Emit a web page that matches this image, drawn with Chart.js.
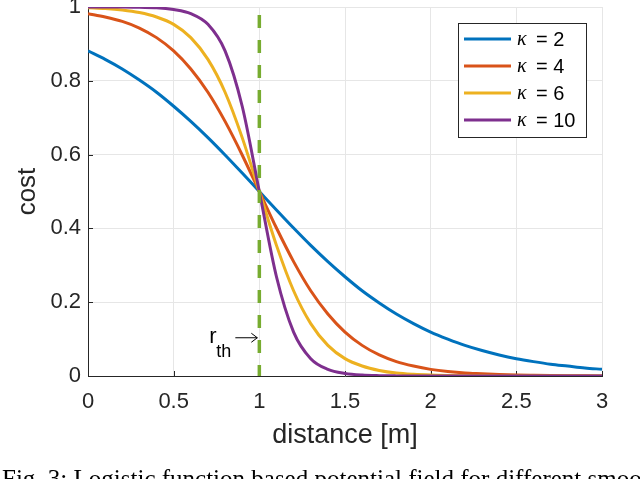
<!DOCTYPE html>
<html>
<head>
<meta charset="utf-8">
<script src="https://cdn.jsdelivr.net/npm/chart.js@4.4.0/dist/chart.umd.min.js"></script>
<style>
html, body { margin: 0; padding: 0; background: #fff; }
#wrap { width: 640px; height: 479px; position: relative; }
</style>
</head>
<body>
<div id="wrap"><canvas id="myChart"></canvas></div>
<script>
// distance samples [m] and cost
const distance = [0, 0.1, 0.2, 0.3, 0.4, 0.5, 0.6, 0.7, 0.8, 0.9, 1.0,
                  1.1, 1.2, 1.3, 1.4, 1.5, 1.6, 1.7, 1.8, 1.9, 2.0,
                  2.1, 2.2, 2.3, 2.4, 2.5, 2.6, 2.7, 2.8, 2.9, 3.0];
const costK2 = [0.881, 0.858, 0.832, 0.802, 0.769, 0.731, 0.690, 0.646, 0.599, 0.550, 0.500,
                0.450, 0.401, 0.354, 0.310, 0.269, 0.231, 0.198, 0.168, 0.142, 0.119,
                0.100, 0.083, 0.069, 0.057, 0.047, 0.039, 0.032, 0.027, 0.022, 0.018];
const costK4 = [0.982, 0.973, 0.961, 0.943, 0.917, 0.881, 0.832, 0.769, 0.690, 0.599, 0.500,
                0.401, 0.310, 0.231, 0.168, 0.119, 0.083, 0.057, 0.039, 0.027, 0.018,
                0.012, 0.008, 0.006, 0.004, 0.0025, 0.0017, 0.0011, 0.0007, 0.0005, 0.0003];
const costK6 = [0.998, 0.996, 0.992, 0.985, 0.973, 0.953, 0.917, 0.858, 0.769, 0.646, 0.500,
                0.354, 0.231, 0.142, 0.083, 0.047, 0.027, 0.015, 0.008, 0.0045, 0.0025,
                0.0014, 0.0007, 0.0004, 0.0002, 0.0001, 0.0001, 0, 0, 0, 0];
const costK10 = [1.000, 1.000, 1.000, 0.999, 0.998, 0.993, 0.982, 0.953, 0.881, 0.731, 0.500,
                 0.269, 0.119, 0.047, 0.018, 0.007, 0.0025, 0.0009, 0.0003, 0.0001, 0,
                 0, 0, 0, 0, 0, 0, 0, 0, 0, 0];
const kappas = ['2', '4', '6', '10'];
const threshold = [[1, 0], [1, 1]];
const xTicks = [0, 0.5, 1, 1.5, 2, 2.5, 3];
const yTicks = [0, 0.2, 0.4, 0.6, 0.8, 1];

const colors = ['#0072BD', '#D95319', '#EDB120', '#7E2F8E'];
const SANS = "'Liberation Sans', Arial, Helvetica, sans-serif";

function toPoints(values) {
    return values.map((v, i) => ({x: distance[i], y: v}));
}
function fmt(v) {
    return String(+Number(v).toFixed(1));
}

const series = [costK2, costK4, costK6, costK10];
const datasets = series.map((s, i) => ({
    label: 'κ = ' + kappas[i],
    data: toPoints(s),
    borderColor: colors[i],
    borderWidth: 3,
    pointRadius: 0,
    cubicInterpolationMode: 'monotone',
    order: 4 - i
}));
datasets.push({
    label: 'r_th',
    data: threshold.map(p => ({x: p[0], y: p[1]})),
    borderColor: '#77AC30',
    borderWidth: 3.5,
    borderDash: [13, 12],
    borderDashOffset: 2,
    pointRadius: 0,
    order: 0
});

const extras = {
    id: 'extras',
    beforeDatasetsDraw(chart) {
        const ctx = chart.ctx, xs = chart.scales.x, ys = chart.scales.y, a = chart.chartArea;
        ctx.save();
        ctx.strokeStyle = '#262626';
        ctx.lineWidth = 1;
        ctx.beginPath();
        xTicks.forEach(v => {
            const px = Math.round(xs.getPixelForValue(v)) + 0.5;
            ctx.moveTo(px, a.bottom);
            ctx.lineTo(px, a.bottom - 5);
        });
        yTicks.forEach(v => {
            const py = Math.round(ys.getPixelForValue(v)) + 0.5;
            ctx.moveTo(a.left, py);
            ctx.lineTo(a.left + 5, py);
        });
        ctx.stroke();
        ctx.restore();
    },
    afterDraw(chart) {
        const ctx = chart.ctx, xs = chart.scales.x, ys = chart.scales.y, a = chart.chartArea;
        ctx.save();

        // legend box
        const bx = a.right - 144, by = a.top + 16, bw = 128, bh = 114;
        ctx.fillStyle = '#fff';
        ctx.fillRect(bx, by, bw, bh);
        ctx.strokeStyle = '#262626';
        ctx.lineWidth = 1;
        ctx.strokeRect(bx + 0.5, by + 0.5, bw, bh);
        chart.data.datasets.slice(0, 4).forEach((ds, i) => {
            const y = by + 16 + i * 27;
            ctx.strokeStyle = ds.borderColor;
            ctx.lineWidth = 3;
            ctx.beginPath();
            ctx.moveTo(bx + 6, y);
            ctx.lineTo(bx + 53, y);
            ctx.stroke();
            ctx.fillStyle = '#000';
            ctx.textBaseline = 'middle';
            ctx.textAlign = 'left';
            ctx.font = "italic 20px 'Liberation Serif', serif";
            ctx.fillText('κ', bx + 59, y + 1);
            ctx.font = '20px ' + SANS;
            ctx.fillText('= ' + kappas[i], bx + 78, y + 1);
        });

        // r_th annotation with arrow
        const ax = xs.getPixelForValue(1), ay = ys.getPixelForValue(0.105);
        ctx.fillStyle = '#000';
        ctx.textBaseline = 'alphabetic';
        ctx.textAlign = 'left';
        ctx.font = '22px ' + SANS;
        ctx.fillText('r', ax - 50, ay + 6);
        ctx.font = '18px ' + SANS;
        ctx.fillText('th', ax - 43, ay + 20);
        ctx.strokeStyle = '#000';
        ctx.lineWidth = 1;
        ctx.beginPath();
        ctx.moveTo(ax - 24, ay + 0.5);
        ctx.lineTo(ax - 2, ay + 0.5);
        ctx.moveTo(ax - 8, ay - 4);
        ctx.lineTo(ax - 2, ay + 0.5);
        ctx.lineTo(ax - 8, ay + 5);
        ctx.stroke();

        // caption (cut off by the image edge)
        ctx.font = "25px 'Liberation Serif', 'Times New Roman', serif";
        ctx.fillStyle = '#000';
        ctx.fillText('Fig. 3: Logistic function based potential field for different smoothing', 2, 487);
        ctx.restore();
    }
};

const ctx = document.getElementById('myChart');
new Chart(ctx, {
    type: 'line',
    data: {datasets},
    options: {
        responsive: true,
        maintainAspectRatio: false,
        animation: false,
        layout: {padding: {top: 7, right: 38, left: 0, bottom: 0}},
        plugins: {legend: {display: false}, tooltip: {enabled: false}},
        scales: {
            x: {
                type: 'linear',
                min: 0, max: 3,
                afterBuildTicks: s => { s.ticks = xTicks.map(v => ({value: v})); },
                afterFit: s => { s.height = 103; s.paddingLeft = 0; s.paddingRight = 0; },
                grid: {color: '#e6e6e6', drawTicks: false},
                border: {color: '#262626', width: 1},
                ticks: {color: '#262626', font: {family: SANS, size: 22}, padding: 13, maxRotation: 0,
                        callback: v => fmt(v)},
                title: {display: true, text: 'distance [m]', color: '#262626',
                        font: {family: SANS, size: 27}, padding: {top: 0, bottom: 27}}
            },
            y: {
                min: 0, max: 1,
                afterBuildTicks: s => { s.ticks = yTicks.map(v => ({value: v})); },
                afterFit: s => { s.width = 88; s.paddingTop = 0; s.paddingBottom = 0; },
                grid: {color: '#e6e6e6', drawTicks: false},
                border: {color: '#262626', width: 1},
                ticks: {color: '#262626', font: {family: SANS, size: 22}, padding: 7,
                        callback: v => fmt(v)},
                title: {display: true, text: 'cost', color: '#262626',
                        font: {family: SANS, size: 26}, padding: {top: 12, bottom: 0}}
            }
        }
    },
    plugins: [extras]
});
</script>
</body>
</html>
